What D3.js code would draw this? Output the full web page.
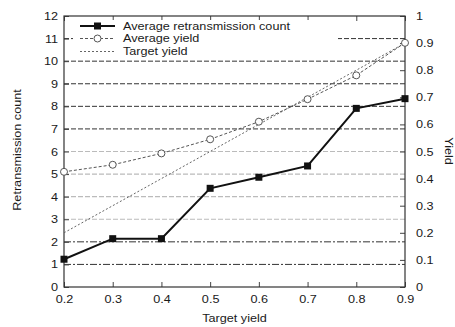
<!DOCTYPE html>
<html>
<head>
<meta charset="utf-8">
<script src="https://cdn.jsdelivr.net/npm/d3@7"></script>
<style>
  html, body { margin: 0; padding: 0; background: #fff; }
  svg { display: block; }
  text { font-family: "Liberation Sans", Arial, sans-serif; fill: #1a1a1a; }
</style>
</head>
<body>
<div id="chart"></div>
<script>
// ---- data ----
const targetYieldX = [0.2, 0.3, 0.4, 0.5, 0.6, 0.7, 0.8, 0.9];
const retransmissionCount = [1.23, 2.14, 2.14, 4.37, 4.86, 5.36, 7.91, 8.34];
const averageYield = [0.425, 0.451, 0.493, 0.545, 0.61, 0.693, 0.781, 0.901];
const targetYield = [0.2, 0.3, 0.4, 0.5, 0.6, 0.7, 0.8, 0.9];
const xTicks = [0.2, 0.3, 0.4, 0.5, 0.6, 0.7, 0.8, 0.9];
const leftTicks = [0, 1, 2, 3, 4, 5, 6, 7, 8, 9, 10, 11, 12];
const rightTicks = [0, 0.1, 0.2, 0.3, 0.4, 0.5, 0.6, 0.7, 0.8, 0.9, 1];
const gridDark = [1, 2, 7, 8, 9, 10, 11];
const gridLight = [3, 4, 5, 6];
const seriesNames = ["Average retransmission count", "Average yield", "Target yield"];

// ---- layout ----
const W = 455, H = 327;
const L = 64, R = 405, T = 16, B = 287;
const FS = 11, SX = 1.15;

const svg = d3.select("#chart").append("svg").attr("width", W).attr("height", H);

const x = d3.scaleLinear().domain([0.2, 0.9]).range([L, R]);
const yL = d3.scaleLinear().domain([0, 12]).range([B, T]);
const yR = d3.scaleLinear().domain([0, 1]).range([B, T]);

// gridlines
svg.append("g").selectAll("line").data(gridLight).join("line")
  .attr("x1", L).attr("x2", R).attr("y1", d => yL(d)).attr("y2", d => yL(d))
  .attr("stroke", "#bbb").attr("stroke-width", 1.2).attr("stroke-dasharray", "5,2");
svg.append("g").selectAll("line").data(gridDark).join("line")
  .attr("x1", L).attr("x2", R).attr("y1", d => yL(d)).attr("y2", d => yL(d))
  .attr("stroke", "#333").attr("stroke-width", 1).attr("stroke-dasharray", d => d <= 2 ? "7,2,2,2" : "5,2");

// axes
function styleAxis(g) {
  g.select(".domain").remove();
  g.selectAll(".tick line").attr("stroke", "#444");
  g.selectAll(".tick text")
    .attr("font-size", FS).attr("font-family", "Liberation Sans, Arial, sans-serif").attr("fill", "#1a1a1a")
    .attr("transform", `scale(${SX},1)`)
    .attr("x", function () { return +d3.select(this).attr("x") / SX; });
}
svg.append("g").attr("transform", `translate(${L},0)`)
  .call(d3.axisLeft(yL).tickValues(leftTicks).tickFormat(d3.format("d")).tickSizeInner(-5).tickSizeOuter(0).tickPadding(6))
  .call(styleAxis);
svg.append("g").attr("transform", `translate(${R},0)`)
  .call(d3.axisRight(yR).tickValues(rightTicks).tickFormat(d3.format("~g")).tickSizeInner(-5).tickSizeOuter(0).tickPadding(11))
  .call(styleAxis);
svg.append("g").attr("transform", `translate(0,${B})`)
  .call(d3.axisBottom(x).tickValues(xTicks).tickFormat(d3.format(".1f")).tickSizeInner(-5).tickSizeOuter(0).tickPadding(8))
  .call(styleAxis);
svg.append("g").attr("transform", `translate(0,${T})`)
  .call(d3.axisTop(x).tickValues(xTicks).tickFormat("").tickSizeInner(-5).tickSizeOuter(0))
  .call(g => { g.select(".domain").remove(); g.selectAll(".tick line").attr("stroke", "#444"); });

// frame
svg.append("rect").attr("x", L).attr("y", T).attr("width", R - L).attr("height", B - T)
  .attr("fill", "none").attr("stroke", "#333").attr("stroke-width", 1.2);

// series
const pts = (ys, sc) => targetYieldX.map((d, i) => [x(d), sc(ys[i])]);
const line = d3.line();

svg.append("path").attr("d", line(pts(targetYield, yR)))
  .attr("fill", "none").attr("stroke", "#666").attr("stroke-width", 1).attr("stroke-dasharray", "2,2");

svg.append("path").attr("d", line(pts(averageYield, yR)))
  .attr("fill", "none").attr("stroke", "#555").attr("stroke-width", 1).attr("stroke-dasharray", "3,2");
svg.append("g").selectAll("circle").data(pts(averageYield, yR)).join("circle")
  .attr("cx", d => d[0]).attr("cy", d => d[1]).attr("r", 3.5)
  .attr("fill", "#fff").attr("stroke", "#555").attr("stroke-width", 1);

svg.append("path").attr("d", line(pts(retransmissionCount, yL)))
  .attr("fill", "none").attr("stroke", "#111").attr("stroke-width", 2);
svg.append("g").selectAll("rect").data(pts(retransmissionCount, yL)).join("rect")
  .attr("x", d => d[0] - 3.5).attr("y", d => d[1] - 3.5).attr("width", 7).attr("height", 7)
  .attr("fill", "#111");

// legend
svg.append("rect").attr("x", 73).attr("y", 20).attr("width", 265).attr("height", 37).attr("fill", "#fff");
const lg = svg.append("g");
const rows = [26, 38.5, 51.5];
seriesNames.forEach((name, i) => {
  const y0 = rows[i];
  const ln = lg.append("line").attr("x1", 80).attr("x2", 115).attr("y1", y0).attr("y2", y0);
  if (i === 0) {
    ln.attr("stroke", "#111").attr("stroke-width", 2);
    lg.append("rect").attr("x", 94).attr("y", y0 - 3.5).attr("width", 7).attr("height", 7).attr("fill", "#111");
  } else if (i === 1) {
    ln.attr("stroke", "#555").attr("stroke-width", 1).attr("stroke-dasharray", "3,2");
    lg.append("circle").attr("cx", 97.5).attr("cy", y0).attr("r", 3.5).attr("fill", "#fff").attr("stroke", "#555");
  } else {
    ln.attr("stroke", "#666").attr("stroke-width", 1).attr("stroke-dasharray", "2,2");
  }
  lg.append("text").attr("transform", `translate(123,${y0}) scale(${SX},1)`)
    .attr("dy", "0.36em").attr("font-size", FS).text(name);
});

// axis titles
svg.append("text").attr("transform", `translate(${(L + R) / 2},322) scale(${SX},1)`)
  .attr("text-anchor", "middle").attr("font-size", FS).text("Target yield");
svg.append("text").attr("transform", `translate(21,150) rotate(-90) scale(${SX},1)`)
  .attr("text-anchor", "middle").attr("font-size", FS).text("Retransmission count");
svg.append("text").attr("transform", `translate(444.5,151) rotate(90) scale(${SX},1)`)
  .attr("text-anchor", "middle").attr("font-size", FS).text("Yield");
</script>
</body>
</html>
